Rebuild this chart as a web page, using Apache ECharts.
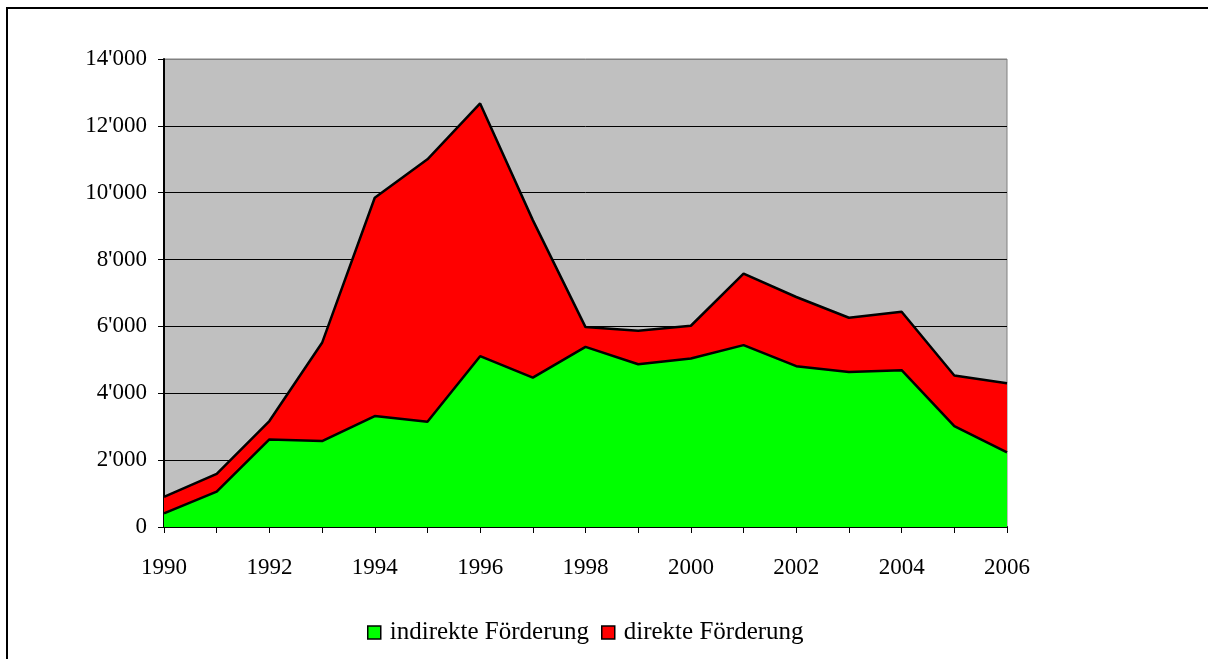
<!DOCTYPE html>
<html>
<head>
<meta charset="utf-8">
<script src="https://cdn.jsdelivr.net/npm/echarts@6/dist/echarts.min.js"></script>
<style>
html, body { margin: 0; padding: 0; background: #fff; }
#frame {
  position: absolute; left: 6px; top: 7px; width: 1300px; height: 800px;
  border-top: 2px solid #000; border-left: 2px solid #000;
}
#main { position: absolute; left: 0; top: 0; width: 1208px; height: 659px; }
</style>
</head>
<body>
<div id="frame"></div>
<div id="main"></div>
<script>
// Jahre
var years = ['1990','1991','1992','1993','1994','1995','1996','1997','1998',
             '1999','2000','2001','2002','2003','2004','2005','2006'];
// indirekte Förderung (grün, unten)
var indirekt = [410, 1060, 2620, 2570, 3320, 3150, 5110, 4470, 5390,
                4870, 5040, 5440, 4810, 4640, 4690, 3020, 2230];
// direkte Förderung (rot, oben gestapelt)
var direkt = [490, 530, 550, 2940, 6530, 7850, 7560, 4710, 590,
              1000, 980, 2140, 2070, 1620, 1750, 1510, 2070];
var yTicks = [0, 2000, 4000, 6000, 8000, 10000, 12000, 14000];

var fontFam = '"Liberation Serif", "Times New Roman", serif';

function fmt(v) {
  // 14000 -> 14'000
  var s = String(v);
  return s.replace(/\B(?=(\d{3})+(?!\d))/g, "'");
}

var myChart = echarts.init(document.getElementById('main'));
var option = {
  animation: false,
  textStyle: { fontFamily: fontFam, color: '#000' },
  grid: {
    left: 164, right: 201, top: 59, bottom: 132,
    show: true, backgroundColor: '#C0C0C0', borderColor: '#808080', borderWidth: 1
  },
  legend: {
    top: 615, left: 362,
    itemWidth: 13, itemHeight: 13, itemGap: 12,
    icon: 'rect',
    textStyle: { fontFamily: fontFam, fontSize: 25, color: '#000', padding: [0, 0, 0, 4] },
    data: [
      { name: 'indirekte Förderung', itemStyle: { color: '#00FF00', borderColor: '#000', borderWidth: 1.5 } },
      { name: 'direkte Förderung', itemStyle: { color: '#FF0000', borderColor: '#000', borderWidth: 1.5 } }
    ]
  },
  xAxis: {
    type: 'category',
    boundaryGap: false,
    data: years,
    axisLine: { lineStyle: { color: '#000', width: 2 } },
    axisTick: { interval: 0, length: 6, lineStyle: { color: '#000', width: 1 } },
    axisLabel: { interval: 1, margin: 29, fontFamily: fontFam, fontSize: 23, color: '#000' },
    splitLine: { show: false }
  },
  yAxis: {
    type: 'value',
    min: yTicks[0],
    max: yTicks[yTicks.length - 1],
    interval: 2000,
    axisLine: { show: true, lineStyle: { color: '#000', width: 2 } },
    axisTick: { show: true, length: 6, lineStyle: { color: '#000', width: 1 } },
    axisLabel: { margin: 17, fontFamily: fontFam, fontSize: 23, color: '#000', formatter: fmt },
    splitLine: {
      lineStyle: { color: ['#000','#000','#000','#000','#000','#000','#000','#808080'], width: 1 }
    }
  },
  series: [
    {
      name: 'indirekte Förderung',
      type: 'line',
      stack: 'total',
      z: 3,
      symbol: 'none',
      data: indirekt,
      itemStyle: { color: '#00FF00' },
      lineStyle: { color: '#000', width: 2.5 },
      areaStyle: { color: '#00FF00', opacity: 1 }
    },
    {
      name: 'direkte Förderung',
      type: 'line',
      stack: 'total',
      z: 2,
      symbol: 'none',
      data: direkt,
      itemStyle: { color: '#FF0000' },
      lineStyle: { color: '#000', width: 2.5 },
      areaStyle: { color: '#FF0000', opacity: 1 }
    }
  ]
};
myChart.setOption(option);
</script>
</body>
</html>
